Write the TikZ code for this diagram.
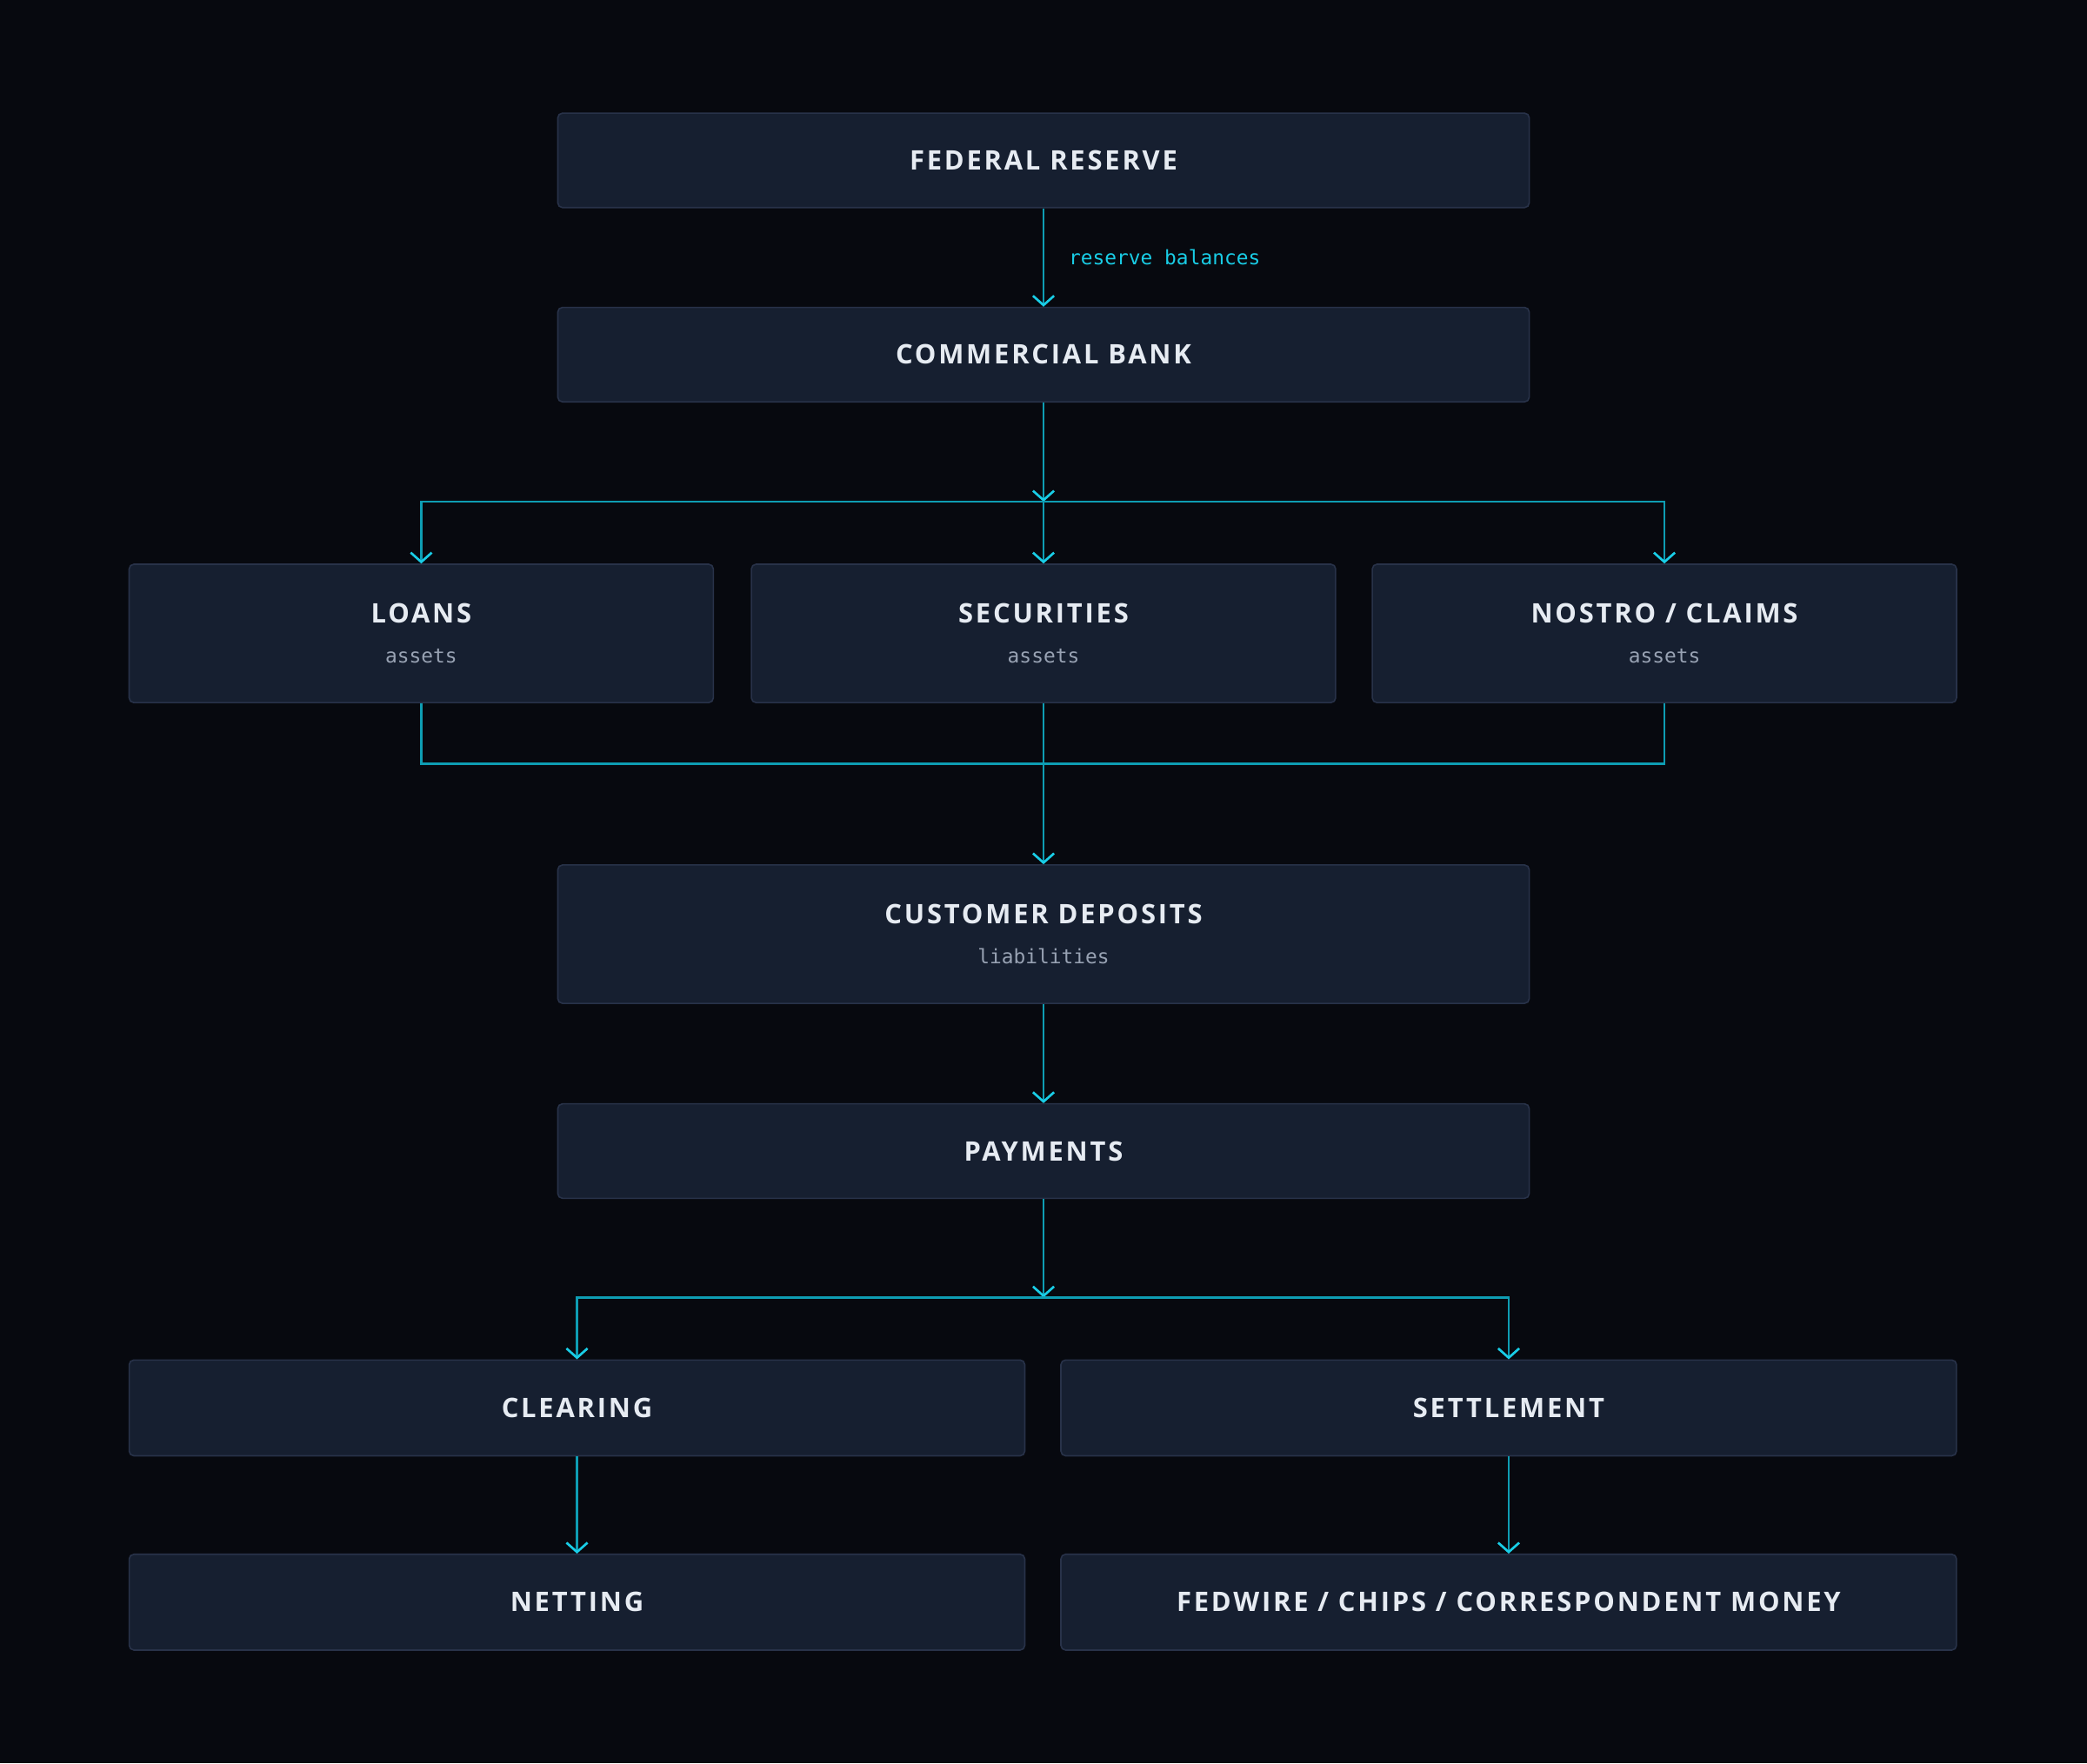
\documentclass[tikz,border=0pt]{standalone}
\usepackage{fontspec}
\setmainfont{Open Sans}
\newfontfamily\monofont{DejaVu Sans Mono}
\usetikzlibrary{arrows.meta, positioning}
\definecolor{bgdark}{HTML}{07090F}
\definecolor{boxfill}{HTML}{161F30}
\definecolor{boxline}{HTML}{283249}
\definecolor{wire}{HTML}{0E9DB3}
\definecolor{tipcol}{HTML}{19CDE6}
\definecolor{titlecol}{HTML}{E6EBF2}
\definecolor{subcol}{HTML}{98A2B3}
\newcommand\ttl[1]{{\bfseries\addfontfeatures{LetterSpace=9}\fontsize{11.5}{13}\selectfont #1}}
\newcommand\subl[1]{{\monofont\fontsize{8.5}{10}\selectfont #1}}
\tikzset{box/.style = {draw=boxline, fill=boxfill, rounded corners=2pt,
    line width=0.6pt, text=titlecol, align=center, inner sep=0pt},
  wide/.style = {box, minimum width=14.6cm, minimum height=1.42cm},
  tall/.style = {box, minimum width=14.6cm, minimum height=2.08cm},
  third/.style = {box, minimum width=8.78cm, minimum height=2.08cm},
  half/.style = {box, minimum width=13.46cm, minimum height=1.44cm},
  flow/.style = {draw=wire, line width=1pt,
    -{Straight Barb[length=4pt, width=9pt, line width=1pt, color=tipcol]}},
  wire/.style = {draw=wire, line width=1pt}}
\begin{document}
\begin{tikzpicture}[x=0.02cm, y=-0.02cm]
\fill[bgdark] (0,0) rectangle (1568,1325);
\useasboundingbox (0,0) rectangle (1568,1325);
% top chain
\node[wide] (fed) at (784,120.5) {\ttl{FEDERAL RESERVE}};
\node[wide] (bank) at (784,266.5) {\ttl{COMMERCIAL BANK}};
% asset side
\node[third] (loans) at (316.5,476) {\ttl{LOANS}\\[5pt]\color{subcol}\subl{assets}};
\node[third] (secur) at (784,476) {\ttl{SECURITIES}\\[5pt]\color{subcol}\subl{assets}};
\node[third] (nostro) at (1250.5,476) {\ttl{NOSTRO / CLAIMS}\\[5pt]\color{subcol}\subl{assets}};
% liabilities and payments
\node[tall] (deposits) at (784,702) {\ttl{CUSTOMER DEPOSITS}\\[5pt]\color{subcol}\subl{liabilities}};
\node[wide] (payments) at (784,865) {\ttl{PAYMENTS}};
\node[half] (clearing) at (433.5,1058) {\ttl{CLEARING}};
\node[half] (settle) at (1133.5,1058) {\ttl{SETTLEMENT}};
\node[half] (netting) at (433.5,1204) {\ttl{NETTING}};
\node[half] (fedwire) at (1133.5,1204) {\ttl{FEDWIRE / CHIPS / CORRESPONDENT MONEY}};
% junctions
\coordinate (split) at (784,377);
\coordinate (merge) at (784,574);
\coordinate (fork) at (784,975);
% connectors
\draw[flow] (fed) -- node[right=7pt, text=tipcol, font=\monofont\fontsize{8.5}{10}\selectfont] {reserve balances} (bank);
\draw[flow] (bank) -- (split);
\draw[flow] (split) -| (loans.north);
\draw[flow] (split) -- (secur.north);
\draw[flow] (split) -| (nostro.north);
\draw[wire] (loans.south) |- (merge);
\draw[wire] (nostro.south) |- (merge);
\draw[wire] (secur.south) -- (merge);
\draw[flow] (merge) -- (deposits);
\draw[flow] (deposits) -- (payments);
\draw[flow] (payments) -- (fork);
\draw[flow] (fork) -| (clearing.north);
\draw[flow] (fork) -| (settle.north);
\draw[flow] (clearing) -- (netting);
\draw[flow] (settle) -- (fedwire);
\end{tikzpicture}
\end{document}
